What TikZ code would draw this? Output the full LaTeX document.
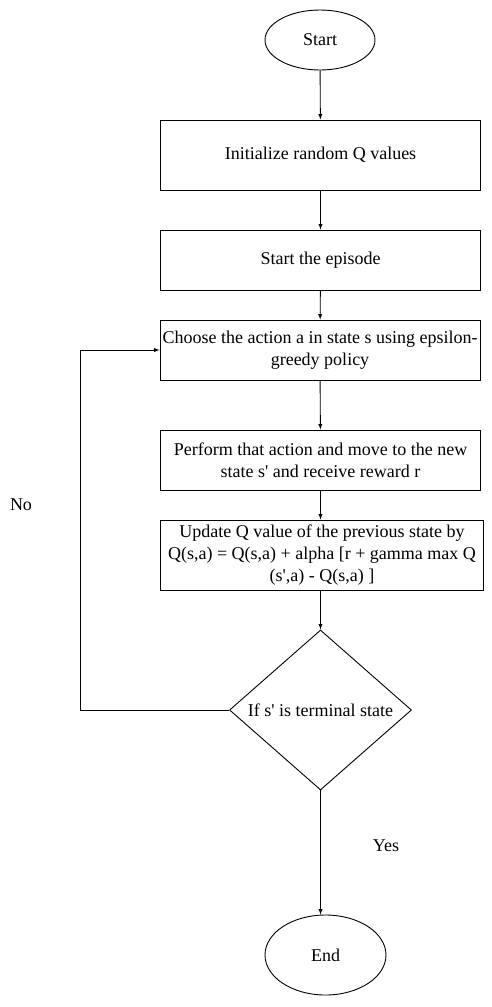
\documentclass[tikz,border=0pt]{standalone}
\usepackage{fontspec}
\setmainfont{Liberation Serif}
\usetikzlibrary{shapes.geometric}
\newcommand{\sq}{\textquotesingle}
\begin{document}
\begin{tikzpicture}[x=1pt, y=-1pt, font=\fontsize{18}{22}\selectfont, >=latex,
    every node/.style={align=center, inner sep=0pt},
    terminal/.style={draw, line width=0.9pt, ellipse, minimum width=110pt, minimum height=60pt},
    stepbox/.style={draw, line width=0.9pt, rectangle, minimum width=320pt, minimum height=60pt},
    flow/.style={->, line width=0.9pt}]
  \useasboundingbox (0,0) rectangle (492,1007);
  \node[terminal] (start) at (320, 40) {Start};
  \node[stepbox, minimum height=70pt] (init) at (320.5, 155) {Initialize random Q values};
  \node[stepbox] (episode) at (320.5, 260) {Start the episode};
  \node[stepbox] (choose) at (320, 350) {Choose the action a in state s using epsilon-\\greedy policy};
  \node[stepbox] (perform) at (320.5, 460) {Perform that action and move to the new\\state s\sq{} and receive reward r};
  \node[stepbox, minimum width=323pt, minimum height=70pt] (update) at (322, 555)
    {Update Q value of the previous state by\\Q(s,a) = Q(s,a) + alpha [r + gamma max Q\\(s\sq,a) - Q(s,a) ]};
  \node[draw, line width=0.9pt, diamond, minimum width=182pt, minimum height=160pt] (terminalq) at (320.5, 710) {};
  \node at (terminalq) {If s\sq{} is terminal state};
  \node[terminal, minimum width=121pt, minimum height=80pt] (end) at (325.5, 955) {End};
  \coordinate (loopdown) at (80, 710);
  \coordinate (loopup) at (80, 350);
  \node (no) at (21, 505) {No};
  \node (yes) at (386, 846) {Yes};
  \draw[flow] (start) -- (init);
  \draw[flow] (init) -- (episode);
  \draw[flow] (episode) -- (choose);
  \draw[flow] (choose) -- (perform);
  \draw[flow] (perform.south) -- (update.north -| perform.south);
  \draw[flow] (update.south -| terminalq.north) -- (terminalq.north);
  \draw[flow] (terminalq.south) -- (terminalq.south |- end.north);
  \draw[flow] (terminalq.west) -- (loopdown) -- (loopup) -- (choose.west);
\end{tikzpicture}
\end{document}
